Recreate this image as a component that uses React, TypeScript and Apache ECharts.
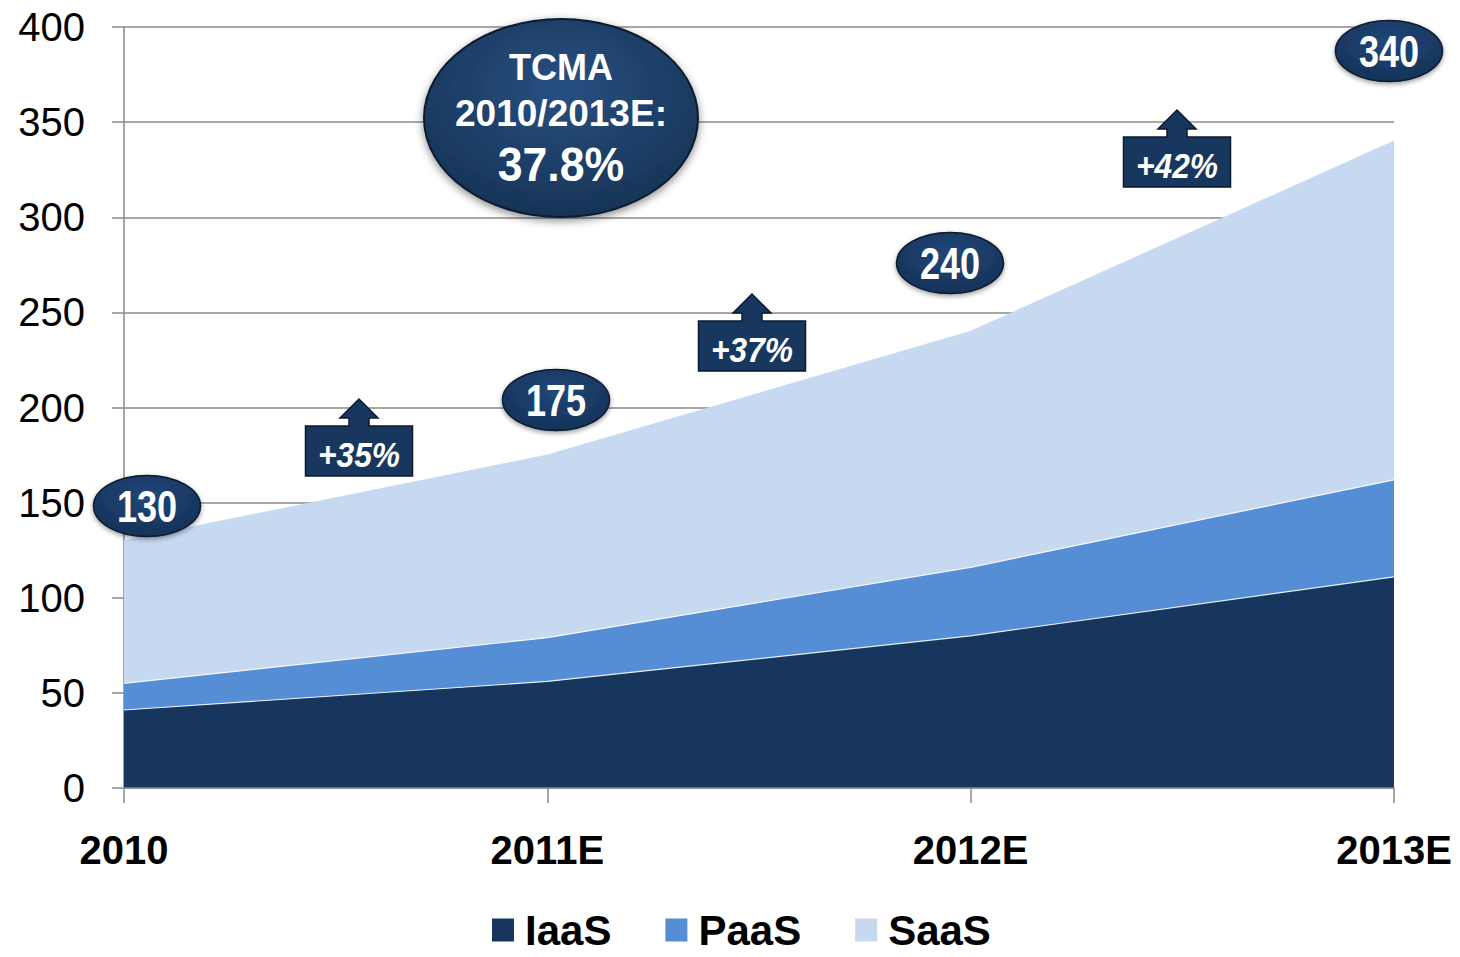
import React, { useEffect, useRef } from "react";
import * as echarts from "echarts";

const categories = ["2010", "2011E", "2012E", "2013E"];
const iaasValues = [41, 56, 80, 111];
const paasValues = [14, 23, 36, 51];
const saasValues = [75, 96, 124, 178];
const totalLabels = ["130", "175", "240", "340"];
const growthLabels = ["+35%", "+37%", "+42%"];
const cagrLines = ["TCMA", "2010/2013E:", "37.8%"];
const seriesNames = ["IaaS", "PaaS", "SaaS"];

const FONT = "'Liberation Sans', Arial, Helvetica, sans-serif";
const NAVY = "#17375e";

export default function App() {
  const ref = useRef<HTMLDivElement>(null);

  useEffect(() => {
    if (!ref.current) return;
    const chart = echarts.init(ref.current, null, { renderer: "svg" });

    const bubblePos = [
      [147, 506],
      [556, 400],
      [950, 263],
      [1389, 51],
    ];
    const arrowPos = [
      [359, 426],
      [752, 321],
      [1177, 137],
    ];

    const bubbleFill = {
      type: "radial",
      x: 0.5,
      y: 0.35,
      r: 0.75,
      colorStops: [
        { offset: 0, color: "#22477a" },
        { offset: 1, color: "#132f52" },
      ],
    };

    const textEl = (
      t: string,
      x: number,
      y: number,
      size: number,
      scaleX: number,
      italic = false
    ) => ({
      type: "text",
      x,
      y,
      scaleX,
      z: 20,
      silent: true,
      style: {
        text: t,
        x: 0,
        y: 0,
        align: "center",
        verticalAlign: "middle",
        fill: "#ffffff",
        fontFamily: FONT,
        fontWeight: "bold",
        fontStyle: italic ? "italic" : "normal",
        fontSize: size,
      },
    });

    const graphics: any[] = [];

    // TCMA ellipse
    graphics.push({
      type: "ellipse",
      shape: { cx: 561, cy: 118, rx: 137, ry: 99 },
      style: {
        fill: {
          type: "radial",
          x: 0.5,
          y: 0.35,
          r: 0.75,
          colorStops: [
            { offset: 0, color: "#284f82" },
            { offset: 1, color: "#14304f" },
          ],
        },
        stroke: "#0b1a2e",
        lineWidth: 2,
        shadowBlur: 8,
        shadowOffsetY: 3,
        shadowColor: "rgba(0,0,0,0.45)",
      },
      z: 10,
    });
    const cagrY = [67, 113, 164];
    const cagrSize = [36, 37, 48];
    cagrLines.forEach((t, i) => {
      graphics.push(textEl(t, 561, cagrY[i], cagrSize[i], i === 2 ? 0.93 : 1));
    });

    // value bubbles
    totalLabels.forEach((t, i) => {
      const [cx, cy] = bubblePos[i];
      graphics.push({
        type: "ellipse",
        shape: { cx, cy, rx: 53.5, ry: 30.5 },
        style: {
          fill: bubbleFill,
          stroke: "#0b1a2e",
          lineWidth: 1.5,
          shadowBlur: 5,
          shadowOffsetY: 2,
          shadowColor: "rgba(0,0,0,0.4)",
        },
        z: 10,
      });
      graphics.push(textEl(t, cx, cy + 1, 44, 0.82));
    });

    // growth arrow boxes
    growthLabels.forEach((t, i) => {
      const [cx, yt] = arrowPos[i];
      const hw = 53.5;
      const h = 50;
      const pts = [
        [cx - hw, yt],
        [cx - 10, yt],
        [cx - 10, yt - 8],
        [cx - 19, yt - 8],
        [cx, yt - 27],
        [cx + 19, yt - 8],
        [cx + 10, yt - 8],
        [cx + 10, yt],
        [cx + hw, yt],
        [cx + hw, yt + h],
        [cx - hw, yt + h],
      ];
      graphics.push({
        type: "polygon",
        shape: { points: pts },
        style: { fill: NAVY, stroke: "#0b1a2e", lineWidth: 1.5 },
        z: 10,
      });
      graphics.push(textEl(t, cx, yt + h / 2 + 3, 36, 0.88, true));
    });

    const colors = ["#17365d", "#558ed5", "#c6d9f1"];
    const values = [iaasValues, paasValues, saasValues];

    chart.setOption({
      animation: false,
      backgroundColor: "#ffffff",
      color: colors,
      grid: { left: 124, right: 66, top: 27, bottom: 169, containLabel: false },
      legend: {
        data: seriesNames,
        left: 487,
        top: 904,
        icon: "rect",
        itemWidth: 22,
        itemHeight: 23,
        itemGap: 54,
        textStyle: {
          color: "#000",
          fontFamily: FONT,
          fontWeight: "bold",
          fontSize: 42,
          lineHeight: 42,
          padding: [0, 0, 0, 6],
        },
      },
      xAxis: {
        type: "category",
        data: categories,
        boundaryGap: false,
        axisLine: { lineStyle: { color: "#8a8a8a", width: 1.5 } },
        axisTick: { show: true, length: 15, lineStyle: { color: "#8a8a8a", width: 1.5 } },
        axisLabel: {
          color: "#000",
          fontFamily: FONT,
          fontWeight: "bold",
          fontSize: 40,
          margin: 42,
        },
        splitLine: { show: false },
        z: 5,
      },
      yAxis: {
        type: "value",
        min: 0,
        max: 400,
        interval: 50,
        axisLine: { show: true, lineStyle: { color: "#8a8a8a", width: 1.5 } },
        axisTick: { show: true, length: 12, lineStyle: { color: "#8a8a8a", width: 1.5 } },
        axisLabel: {
          color: "#000",
          fontFamily: FONT,
          fontSize: 40,
          margin: 39,
        },
        splitLine: { show: true, lineStyle: { color: "#8a8a8a", width: 1.5 } },
      },
      series: seriesNames.map((name, i) => ({
        name,
        type: "line",
        stack: "total",
        data: values[i],
        showSymbol: false,
        symbol: "none",
        smooth: false,
        lineStyle: { color: i === 2 ? colors[2] : "#ffffff", width: 1.2, opacity: 0.85 },
        areaStyle: { color: colors[i], opacity: 1 },
        itemStyle: { color: colors[i] },
        z: 2,
      })),
      graphic: graphics,
    });

    return () => chart.dispose();
  }, []);

  return (
    <div
      ref={ref}
      style={{ position: "absolute", left: 0, top: 0, width: 1460, height: 957 }}
    />
  );
}
